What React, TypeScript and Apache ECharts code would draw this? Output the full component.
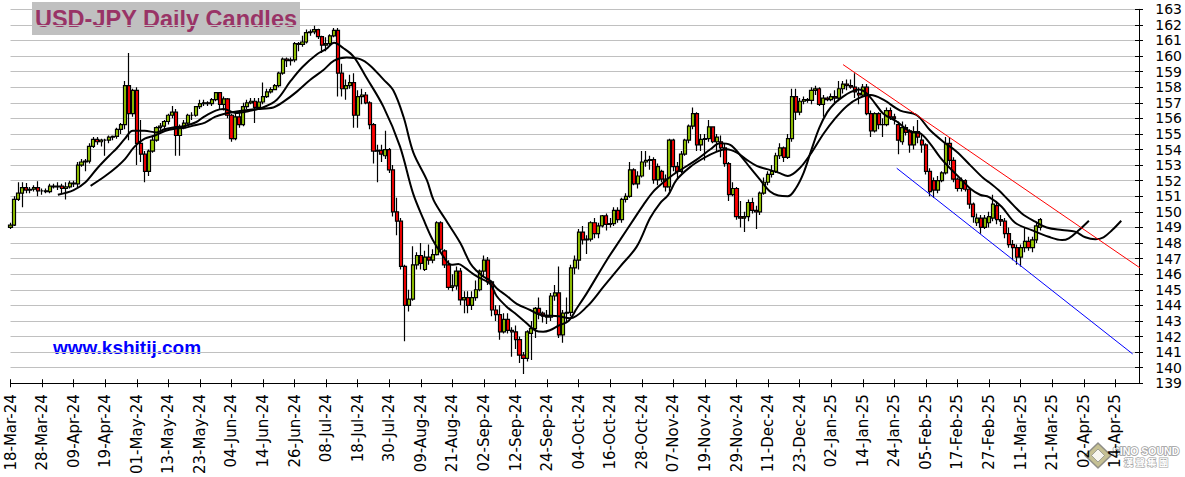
import React, { useEffect, useRef } from "react";
import * as echarts from "echarts";

const MONTHS = ["Jan", "Feb", "Mar", "Apr", "May", "Jun", "Jul", "Aug", "Sep", "Oct", "Nov", "Dec"];
const FIRST_DAY = Date.UTC(2024, 2, 18);
const AXIS_LAST = 286; // weekday index at the right end of the x axis
const LABEL_STEP = 8;

function weekdayLabels(count: number): string[] {
  const out: string[] = [];
  let t = FIRST_DAY;
  while (out.length < count) {
    const d = new Date(t);
    const wd = d.getUTCDay();
    if (wd !== 0 && wd !== 6) {
      out.push(
        String(d.getUTCDate()).padStart(2, "0") + "-" + MONTHS[d.getUTCMonth()] + "-" + String(d.getUTCFullYear()).slice(2)
      );
    }
    t += 86400000;
  }
  return out;
}
const dateLabels = weekdayLabels(AXIS_LAST + 1);

const PRICE_MIN = 139;
const PRICE_MAX = 163;

// daily candles: [open, high, low, close], one per weekday from 18-Mar-24
const candles: number[][] = [
  [149.0, 149.3, 148.9, 149.15], [149.15, 151.0, 149.1, 150.8], [150.8, 151.9, 150.7, 151.2], [151.2, 151.9, 150.3, 151.55],
  [151.55, 151.85, 151.2, 151.4], [151.4, 151.6, 151.2, 151.45], [151.45, 151.7, 151.3, 151.55], [151.55, 151.97, 151.0, 151.35],
  [151.35, 151.5, 151.1, 151.35], [151.35, 151.5, 151.2, 151.3], [151.3, 151.8, 151.2, 151.65], [151.65, 151.8, 151.5, 151.6],
  [151.6, 151.9, 151.4, 151.65], [151.65, 151.8, 151.2, 151.5], [151.5, 151.9, 150.8, 151.6], [151.6, 152.0, 151.5, 151.85],
  [151.85, 152.0, 151.6, 151.8], [151.8, 153.2, 151.6, 153.0], [153.0, 153.4, 152.9, 153.2], [153.2, 153.4, 152.6, 153.25],
  [153.25, 154.4, 153.1, 154.2], [154.2, 154.8, 154.1, 154.65], [154.65, 154.8, 154.3, 154.5], [154.5, 154.7, 154.2, 154.6],
  [154.6, 154.7, 153.6, 154.6], [154.6, 154.9, 154.4, 154.8], [154.8, 154.9, 154.6, 154.85], [154.85, 155.4, 154.7, 155.3],
  [155.3, 155.7, 155.0, 155.6], [155.6, 158.4, 155.3, 158.1], [158.1, 160.2, 154.6, 156.3], [156.3, 157.9, 156.1, 157.8],
  [157.8, 158.0, 153.0, 154.4], [154.4, 155.9, 153.2, 153.7], [153.7, 153.9, 151.9, 152.6], [152.6, 154.0, 152.3, 153.9],
  [153.9, 154.8, 153.8, 154.6], [154.6, 155.5, 154.5, 155.4], [155.4, 155.7, 155.2, 155.5], [155.5, 155.9, 155.3, 155.8],
  [155.8, 156.3, 155.6, 156.2], [156.2, 156.8, 156.0, 156.4], [156.4, 156.6, 153.6, 154.9], [154.9, 155.6, 153.6, 155.4],
  [155.4, 155.9, 155.3, 155.7], [155.7, 156.3, 155.6, 156.2], [156.2, 156.4, 155.9, 156.2], [156.2, 156.8, 156.1, 156.75],
  [156.75, 157.2, 156.6, 156.95], [156.95, 157.2, 156.8, 157.0], [157.0, 157.1, 156.8, 156.95], [156.95, 157.3, 156.8, 157.2],
  [157.2, 157.7, 157.1, 157.65], [157.65, 157.7, 156.6, 156.9], [156.9, 157.4, 156.5, 157.25], [157.25, 157.3, 156.0, 156.2],
  [156.2, 156.3, 154.5, 154.7], [154.7, 156.4, 154.6, 156.1], [156.1, 156.5, 155.4, 155.6], [155.6, 157.0, 155.5, 156.75],
  [156.75, 157.2, 156.6, 157.0], [157.0, 157.3, 156.9, 157.1], [157.1, 157.3, 155.7, 156.7], [156.7, 157.3, 156.6, 157.05],
  [157.05, 158.3, 156.9, 157.4], [157.4, 157.9, 157.3, 157.7], [157.7, 158.0, 157.6, 157.85], [157.85, 158.2, 157.8, 158.1],
  [158.1, 159.0, 158.0, 158.9], [158.9, 159.9, 158.8, 159.8], [159.8, 159.9, 159.3, 159.7], [159.7, 159.9, 159.4, 159.75],
  [159.75, 160.9, 159.6, 160.8], [160.8, 160.9, 160.3, 160.75], [160.75, 161.3, 160.6, 160.9], [160.9, 161.7, 160.8, 161.5],
  [161.5, 161.7, 161.3, 161.55], [161.55, 161.95, 161.4, 161.7], [161.7, 161.75, 161.1, 161.25], [161.25, 161.3, 160.2, 160.7],
  [160.7, 161.2, 160.3, 160.8], [160.8, 161.4, 160.7, 161.3], [161.3, 161.8, 161.2, 161.65], [161.65, 161.8, 157.4, 158.9],
  [158.9, 159.5, 157.4, 157.9], [157.9, 158.5, 157.2, 158.1], [158.1, 158.8, 157.9, 158.3], [158.3, 158.9, 155.4, 156.2],
  [156.2, 157.8, 155.4, 157.4], [157.4, 157.9, 156.9, 157.5], [157.5, 157.7, 156.9, 157.0], [157.0, 157.1, 155.3, 155.6],
  [155.6, 155.7, 153.1, 153.9], [153.9, 154.3, 151.9, 153.95], [153.95, 154.3, 153.2, 153.7], [153.6, 155.2, 153.4, 154.0],
  [154.0, 154.1, 152.5, 152.7], [152.7, 153.0, 149.7, 150.0], [150.0, 150.9, 148.5, 149.4], [149.4, 149.6, 146.3, 146.5],
  [146.5, 146.6, 141.7, 144.0], [144.0, 145.0, 143.6, 144.4], [144.4, 147.8, 144.3, 146.6], [146.6, 147.4, 146.3, 147.2],
  [147.2, 148.0, 146.3, 146.7], [146.3, 147.5, 146.2, 147.1], [147.1, 147.9, 146.6, 146.9], [146.9, 147.6, 146.7, 147.25],
  [147.25, 149.4, 147.2, 149.3], [149.3, 149.4, 147.4, 147.6], [147.5, 147.6, 146.4, 146.6], [146.6, 146.9, 145.0, 145.15],
  [145.15, 146.0, 144.9, 145.25], [145.25, 146.5, 145.0, 146.2], [146.2, 146.4, 144.0, 144.35], [144.35, 144.9, 143.5, 144.5],
  [144.5, 144.9, 143.5, 144.0], [144.0, 144.9, 143.7, 144.5], [144.5, 145.6, 144.3, 145.0], [145.0, 146.3, 144.9, 146.2],
  [146.2, 147.2, 145.8, 146.9], [146.9, 147.1, 145.3, 145.5], [145.5, 145.6, 143.3, 143.7], [143.7, 144.0, 143.0, 143.4],
  [143.4, 144.0, 141.8, 142.3], [142.3, 143.5, 142.2, 143.1], [143.1, 143.5, 142.2, 142.4], [142.4, 142.6, 140.7, 142.3],
  [142.3, 142.7, 141.2, 141.8], [141.8, 142.0, 140.3, 140.8], [140.8, 141.0, 139.6, 140.6], [140.6, 142.4, 140.4, 142.3],
  [142.2, 143.0, 140.5, 142.5], [142.5, 143.9, 141.9, 143.8], [143.8, 144.5, 143.1, 143.5], [143.5, 143.6, 142.9, 143.3],
  [143.3, 143.7, 142.8, 143.25], [143.25, 144.8, 143.0, 144.6], [144.6, 145.3, 144.3, 144.8], [144.8, 146.5, 141.9, 142.1],
  [142.1, 143.7, 141.6, 143.5], [143.5, 144.5, 142.9, 143.55], [143.55, 146.6, 143.3, 146.4], [146.4, 147.2, 146.0, 146.9],
  [146.9, 148.9, 146.3, 148.7], [148.7, 149.1, 147.9, 148.2], [148.2, 148.5, 147.3, 148.25], [148.25, 149.4, 148.1, 149.3],
  [149.3, 149.6, 148.3, 148.6], [148.6, 149.3, 148.3, 149.1], [149.1, 149.8, 149.0, 149.75], [149.75, 149.9, 148.8, 149.2],
  [149.2, 149.6, 149.0, 149.25], [149.25, 150.3, 149.1, 150.1], [150.1, 150.3, 149.3, 149.5], [149.5, 150.9, 149.3, 150.8],
  [150.8, 151.2, 150.6, 151.0], [151.0, 153.2, 150.9, 152.7], [152.7, 152.8, 151.7, 151.8], [151.8, 152.6, 151.5, 152.3],
  [152.3, 153.9, 152.2, 153.2], [153.2, 153.9, 152.9, 153.3], [153.3, 153.6, 152.7, 153.35], [153.35, 153.5, 151.8, 152.05],
  [152.05, 153.1, 151.7, 152.9], [152.6, 152.7, 151.9, 152.1], [152.1, 152.4, 151.3, 151.6], [151.6, 154.7, 151.3, 154.6],
  [154.6, 154.7, 152.6, 152.9], [152.9, 153.2, 152.1, 152.6], [152.6, 153.9, 152.5, 153.7], [153.7, 154.7, 153.6, 154.6],
  [154.6, 155.6, 154.4, 155.5], [155.5, 156.7, 155.3, 156.3], [156.3, 156.4, 153.9, 154.3], [154.3, 155.0, 153.9, 154.65],
  [154.65, 155.0, 153.3, 154.7], [154.7, 155.9, 154.5, 155.45], [155.45, 155.5, 154.4, 154.5], [154.5, 155.0, 153.9, 154.8],
  [154.5, 154.9, 153.5, 154.1], [154.1, 154.4, 152.9, 153.1], [153.1, 153.2, 150.7, 151.1], [151.1, 151.9, 151.0, 151.5],
  [151.5, 151.6, 149.5, 149.7], [149.7, 150.7, 149.0, 149.6], [149.6, 150.0, 148.7, 149.7], [149.7, 150.8, 149.4, 150.6],
  [150.6, 150.9, 149.9, 150.1], [150.1, 150.4, 148.9, 150.0], [150.0, 151.3, 149.8, 151.2], [151.2, 152.2, 151.1, 151.9],
  [151.9, 152.6, 151.7, 152.4], [152.4, 153.0, 152.2, 152.6], [152.6, 153.8, 152.5, 153.6], [153.6, 154.4, 153.4, 154.1],
  [154.1, 154.2, 153.2, 153.5], [153.5, 155.0, 153.4, 154.7], [154.7, 157.9, 154.5, 157.4], [157.4, 157.9, 155.9, 156.4],
  [156.4, 157.3, 156.2, 157.1], [157.1, 157.4, 156.9, 157.2], [157.2, 157.3, 157.0, 157.15], [157.15, 158.0, 156.9, 157.8],
  [157.8, 158.1, 157.5, 157.9], [157.9, 158.0, 156.8, 156.9], [156.9, 157.5, 156.1, 157.3], [157.3, 157.4, 157.1, 157.2],
  [157.2, 157.6, 157.1, 157.4], [157.4, 157.8, 156.9, 157.3], [157.3, 158.4, 157.1, 157.9], [157.9, 158.4, 157.6, 158.2],
  [158.2, 158.5, 157.8, 158.1], [158.1, 158.5, 157.9, 158.0], [158.0, 158.9, 157.3, 157.7], [157.6, 158.0, 156.9, 157.5],
  [157.5, 158.2, 157.4, 158.0], [158.0, 158.2, 156.2, 156.3], [156.3, 156.5, 154.8, 155.2], [155.2, 156.4, 155.1, 156.3],
  [156.3, 156.4, 155.3, 155.6], [155.6, 156.0, 154.8, 155.6], [155.6, 156.7, 155.5, 156.5], [156.5, 156.7, 155.9, 156.1],
  [156.1, 156.3, 155.6, 156.0], [155.6, 155.8, 153.7, 154.6], [154.5, 155.8, 154.3, 155.4], [155.4, 155.6, 154.9, 155.1],
  [155.2, 155.3, 153.8, 154.3], [154.3, 155.5, 154.0, 155.15], [155.15, 155.9, 154.4, 154.8], [154.6, 155.0, 153.8, 154.3],
  [154.3, 154.4, 152.4, 152.6], [152.6, 152.8, 151.0, 151.3], [152.0, 152.2, 150.9, 151.4], [151.4, 152.3, 151.2, 152.0],
  [152.0, 152.6, 151.9, 152.5], [152.5, 154.8, 152.4, 154.4], [154.4, 154.8, 153.0, 153.3], [153.3, 153.5, 151.9, 152.1],
  [152.1, 152.2, 151.3, 151.5], [151.5, 152.2, 151.3, 152.0], [152.0, 152.1, 151.3, 151.45], [151.45, 151.6, 150.2, 150.5],
  [150.5, 150.6, 149.3, 149.7], [149.3, 149.9, 149.1, 149.6], [149.6, 149.8, 148.6, 149.0], [149.0, 149.8, 148.9, 149.6],
  [149.3, 150.0, 149.0, 149.7], [149.6, 151.1, 149.4, 150.5], [150.4, 150.6, 149.2, 149.5], [149.5, 149.8, 149.1, 149.4],
  [149.4, 149.6, 148.3, 148.6], [148.6, 149.0, 147.7, 147.9], [147.9, 148.2, 146.9, 147.7], [147.7, 147.9, 146.6, 147.1],
  [147.1, 147.9, 146.5, 147.7], [147.7, 149.0, 147.4, 148.1], [148.1, 148.4, 147.5, 147.7], [147.7, 148.4, 147.4, 148.2],
  [148.2, 149.3, 148.0, 149.1], [149.0, 149.6, 148.8, 149.5],
];

// faster displaced average line: [weekday index, price]
const dmaFast: number[][] = [
  [12, 151.1], [16, 151.4], [19, 151.9], [22, 152.8], [25, 153.6], [27, 154.1], [29, 154.7], [31, 155.2], [34, 155.2],
  [37, 155.1], [39, 155.3], [42, 155.45], [44, 155.5], [47, 155.75], [49, 156.1], [52, 156.5], [54, 156.6], [57, 156.35],
  [61, 156.5], [64, 156.7], [67.5, 157.2], [71, 158.4], [74, 159.3], [77.6, 160.1], [80, 160.45], [82, 160.85], [84.4, 160.5],
  [87, 159.95], [90, 158.7], [94.5, 156.75], [98.7, 154.2], [102, 151.2], [104.7, 149.5], [107, 148.2], [109, 147.4],
  [111.8, 146.6], [113.5, 146.65], [115.2, 146.4], [117.3, 146.0], [119, 145.75], [121.5, 145.4], [123.2, 144.6],
  [125.8, 143.9], [128.3, 143.4], [130.8, 142.85], [132.9, 142.4], [135, 142.3], [136.7, 142.4], [138.9, 142.7],
  [141.4, 143.0], [143.5, 143.8], [146.1, 144.8], [151.1, 146.9], [154.5, 148.2], [157.9, 149.5], [160.4, 150.45],
  [162.9, 151.3], [165.5, 151.9], [168, 152.4], [170.5, 152.8], [173.9, 153.35], [177.3, 154.0], [179.8, 154.4],
  [182.4, 154.3], [184.9, 153.65], [187.4, 152.85], [190, 152.05], [192.5, 151.3], [194.6, 151.05], [197, 151.0],
  [199, 151.5], [201, 152.5], [203, 154.0], [205, 155.4], [207, 156.4], [209, 157.0], [211, 157.4], [213, 157.7],
  [215, 157.85], [217, 157.6], [219, 157.0], [221.2, 156.3], [224.6, 155.8], [228, 155.15], [230.5, 155.05], [233, 154.4],
  [235.6, 153.5], [238.1, 152.8], [240.7, 152.15], [243.2, 151.5], [245.7, 151.1], [248, 150.95], [251.2, 150.33],
  [254.6, 149.3], [258.8, 148.83], [263.1, 148.4], [266.5, 148.19], [268.2, 148.3], [270.8, 148.83], [273.3, 149.43],
];

// slower displaced average line: [weekday index, price]
const dmaSlow: number[][] = [
  [20.3, 151.67], [24, 152.3], [27, 152.9], [29, 153.38], [31.5, 154.2], [34, 154.7], [36.6, 154.9], [39.1, 155.19],
  [41.6, 155.34], [44.2, 155.4], [46.7, 155.56], [49.3, 155.73], [51.8, 156.1], [54.3, 156.3], [59, 156.5], [62.5, 156.6],
  [66.6, 156.7], [69.2, 157.07], [72.5, 157.7], [75.9, 158.46], [79.3, 159.1], [82, 159.7], [85.2, 159.9], [88.6, 159.8],
  [91.1, 159.4], [94.5, 158.5], [97, 157.8], [99.6, 156.1], [102.1, 153.8], [105.5, 152.05], [107.2, 150.77], [110, 149.6],
  [114, 148.0], [116.5, 146.7], [118.2, 146.2], [119.8, 145.85], [121.5, 145.6], [123.2, 145.1], [125.8, 144.6],
  [128.3, 144.1], [131.7, 143.7], [134.2, 143.4], [138.9, 143.3], [141.8, 143.17], [146.1, 143.92], [150.3, 145.2],
  [154.5, 146.49], [158.7, 147.77], [162.1, 149.6], [164.6, 150.55], [166.7, 151.09], [168.8, 152.05], [172.2, 152.87],
  [175.6, 153.44], [179, 153.87], [181.5, 154.02], [184.1, 153.8], [186.6, 153.34], [189.1, 152.95], [191.7, 152.74],
  [194.6, 152.52], [197, 152.3], [200, 152.8], [203, 153.8], [206, 155.0], [209, 156.0], [212, 156.8], [215, 157.3],
  [218, 157.5], [221.2, 157.2], [225.5, 156.5], [229.7, 156.2], [233, 155.25], [236.4, 154.5], [239.8, 153.86],
  [243.2, 153.0], [246.6, 152.15], [248, 151.9], [250.4, 151.4], [252.9, 150.76], [256.3, 149.9], [259.7, 149.37],
  [262.6, 149.0], [266.5, 148.83], [269.8, 148.73], [272.4, 148.37], [274.9, 148.24], [277, 148.37], [279.2, 148.83],
  [281.5, 149.43],
];

// hand-drawn trend lines: [weekday index, price]
const resistanceLine: number[][] = [[211, 159.45], [288, 146.1]];
const supportLine: number[][] = [[224.6, 152.8], [284.4, 140.88]];

const TITLE_FONT = "'Liberation Sans', Arial, Helvetica, sans-serif";
const AXIS_FONT = "'DejaVu Sans', Verdana, sans-serif";

// layout of the plot area (pixels)
const GRID_LEFT = 10.5;
const GRID_RIGHT = 46;
const GRID_TOP = 9.3;
const GRID_BOTTOM = 93.7;

export default function App() {
  const ref = useRef<HTMLDivElement>(null);

  useEffect(() => {
    if (!ref.current) return;
    const chart = echarts.init(ref.current, null, { renderer: "svg" });

    const candleData = candles.map((c, i) => [i, c[0], c[3], c[2], c[1]]);

    // the label grid spans one extra price unit below the main grid so that
    // the lowest price label (139) is not the axis minimum and always shows
    const unitPx = (477 - GRID_TOP - GRID_BOTTOM) / (PRICE_MAX - PRICE_MIN);
    const labelGridBottom = GRID_BOTTOM - unitPx;

    const xBase = {
      type: "value" as const,
      min: 0,
      max: AXIS_LAST,
      interval: LABEL_STEP,
      splitLine: { show: false },
    };
    const yBase = {
      type: "value" as const,
      min: PRICE_MIN,
      max: PRICE_MAX,
      interval: 1,
      position: "right" as const,
    };

    chart.setOption({
      animation: false,
      backgroundColor: "#ffffff",
      grid: [
        { left: GRID_LEFT, right: GRID_RIGHT, top: GRID_TOP, bottom: GRID_BOTTOM, containLabel: false },
        { left: GRID_LEFT, right: GRID_RIGHT, top: GRID_TOP, bottom: labelGridBottom, containLabel: false },
      ],
      xAxis: [
        {
          ...xBase,
          gridIndex: 0,
          position: "bottom",
          axisLine: { show: true, onZero: false, lineStyle: { color: "#000", width: 1 } },
          axisTick: { show: true, length: 4, lineStyle: { color: "#000", width: 1 } },
          axisLabel: {
            show: true,
            rotate: 90,
            margin: 11,
            fontSize: 15,
            fontFamily: AXIS_FONT,
            color: "#000",
            showMinLabel: true,
            showMaxLabel: false,
            formatter: (v: number) => (v % LABEL_STEP === 0 && v <= 280 ? dateLabels[v] : ""),
          },
        },
        {
          ...xBase,
          gridIndex: 0,
          position: "bottom",
          axisLine: { show: false, onZero: false },
          axisTick: { show: true, inside: true, length: 4, lineStyle: { color: "#000", width: 1 } },
          axisLabel: { show: false },
        },
        {
          ...xBase,
          gridIndex: 1,
          show: false,
        },
      ],
      yAxis: [
        {
          ...yBase,
          gridIndex: 0,
          axisLine: { show: true, onZero: false, lineStyle: { color: "#000", width: 1 } },
          axisTick: { show: true, length: 4, lineStyle: { color: "#000", width: 1 } },
          axisLabel: { show: false },
          splitLine: { show: true, lineStyle: { color: "#C0C0C0", width: 1 } },
        },
        {
          ...yBase,
          gridIndex: 0,
          axisLine: { show: false, onZero: false },
          axisTick: { show: true, inside: true, length: 4, lineStyle: { color: "#000", width: 1 } },
          axisLabel: { show: false },
          splitLine: { show: false },
        },
        {
          type: "value",
          gridIndex: 1,
          min: PRICE_MIN - 1,
          max: PRICE_MAX,
          interval: 1,
          position: "right",
          axisLine: { show: false, onZero: false },
          axisTick: { show: false },
          splitLine: { show: false },
          axisLabel: {
            show: true,
            margin: 17,
            fontSize: 14,
            fontFamily: AXIS_FONT,
            color: "#000",
            showMaxLabel: true,
            formatter: (v: number) => (v < PRICE_MIN ? "" : String(v)),
          },
        },
      ],
      series: [
        {
          type: "candlestick",
          name: "USD-JPY",
          data: candleData,
          encode: { x: 0, y: [1, 2, 3, 4] },
          barWidth: 3.6,
          z: 2,
          itemStyle: {
            color: "#99CC00",
            color0: "#FF0000",
            borderColor: "#000000",
            borderColor0: "#000000",
            borderColorDoji: "#000000",
            borderWidth: 1.2,
          },
        },
        {
          type: "line",
          name: "fast",
          data: dmaFast,
          smooth: 0.35,
          showSymbol: false,
          symbol: "none",
          z: 4,
          lineStyle: { color: "#000", width: 2 },
        },
        {
          type: "line",
          name: "slow",
          data: dmaSlow,
          smooth: 0.35,
          showSymbol: false,
          symbol: "none",
          z: 4,
          lineStyle: { color: "#000", width: 2 },
        },
        {
          type: "line",
          name: "resistance",
          data: resistanceLine,
          clip: false,
          showSymbol: false,
          symbol: "none",
          z: 5,
          lineStyle: { color: "#FF0000", width: 1 },
        },
        {
          type: "line",
          name: "support",
          data: supportLine,
          clip: false,
          showSymbol: false,
          symbol: "none",
          z: 5,
          lineStyle: { color: "#0000FF", width: 1 },
        },
      ],
      graphic: [
        {
          type: "group",
          z: 50,
          children: [
            { type: "rect", shape: { x: 32, y: 2, width: 268, height: 33 }, style: { fill: "#C0C0C0" } },
            {
              type: "text",
              x: 166,
              y: 19,
              style: {
                text: "USD-JPY Daily Candles",
                fill: "#993366",
                font: "bold 23.5px " + TITLE_FONT,
                textAlign: "center",
                textVerticalAlign: "middle",
              },
            },
          ],
        },
        {
          type: "group",
          z: 50,
          children: [
            { type: "rect", shape: { x: 48, y: 334, width: 159, height: 25 }, style: { fill: "#ffffff" } },
            {
              type: "text",
              x: 127,
              y: 347,
              style: {
                text: "www.kshitij.com",
                fill: "#0000FF",
                font: "bold 19px " + TITLE_FONT,
                textAlign: "center",
                textVerticalAlign: "middle",
              },
            },
          ],
        },
        {
          type: "group",
          z: 60,
          children: [
            {
              type: "polygon",
              shape: { points: [[1098, 443], [1111, 455.5], [1098, 468], [1085, 455.5]] },
              style: { fill: "rgba(150,140,60,0.55)", stroke: "rgba(110,110,110,0.7)", lineWidth: 1.5 },
            },
            {
              type: "polygon",
              shape: { points: [[1098, 449], [1104.5, 455.5], [1098, 462], [1091.5, 455.5]] },
              style: { fill: "rgba(255,255,255,0.85)", stroke: "rgba(120,120,120,0.6)", lineWidth: 1 },
            },
            {
              type: "text",
              x: 1146,
              y: 451,
              style: {
                text: "SINO SOUND",
                fill: "#ffffff",
                stroke: "#9a9a9a",
                lineWidth: 1.5,
                font: "bold 10.5px " + TITLE_FONT,
                textAlign: "center",
                textVerticalAlign: "middle",
              },
            },
            {
              type: "text",
              x: 1146,
              y: 462,
              style: {
                text: "漢 聲 集 團",
                fill: "#ffffff",
                stroke: "#a8a8a8",
                lineWidth: 1.2,
                font: "bold 9.5px 'Noto Sans CJK TC', sans-serif",
                textAlign: "center",
                textVerticalAlign: "middle",
              },
            },
          ],
        },
      ],
    });

    return () => {
      chart.dispose();
    };
  }, []);

  return (
    <div
      ref={ref}
      style={{ position: "absolute", left: 0, top: 0, width: 1185, height: 477, background: "#fff" }}
    />
  );
}
